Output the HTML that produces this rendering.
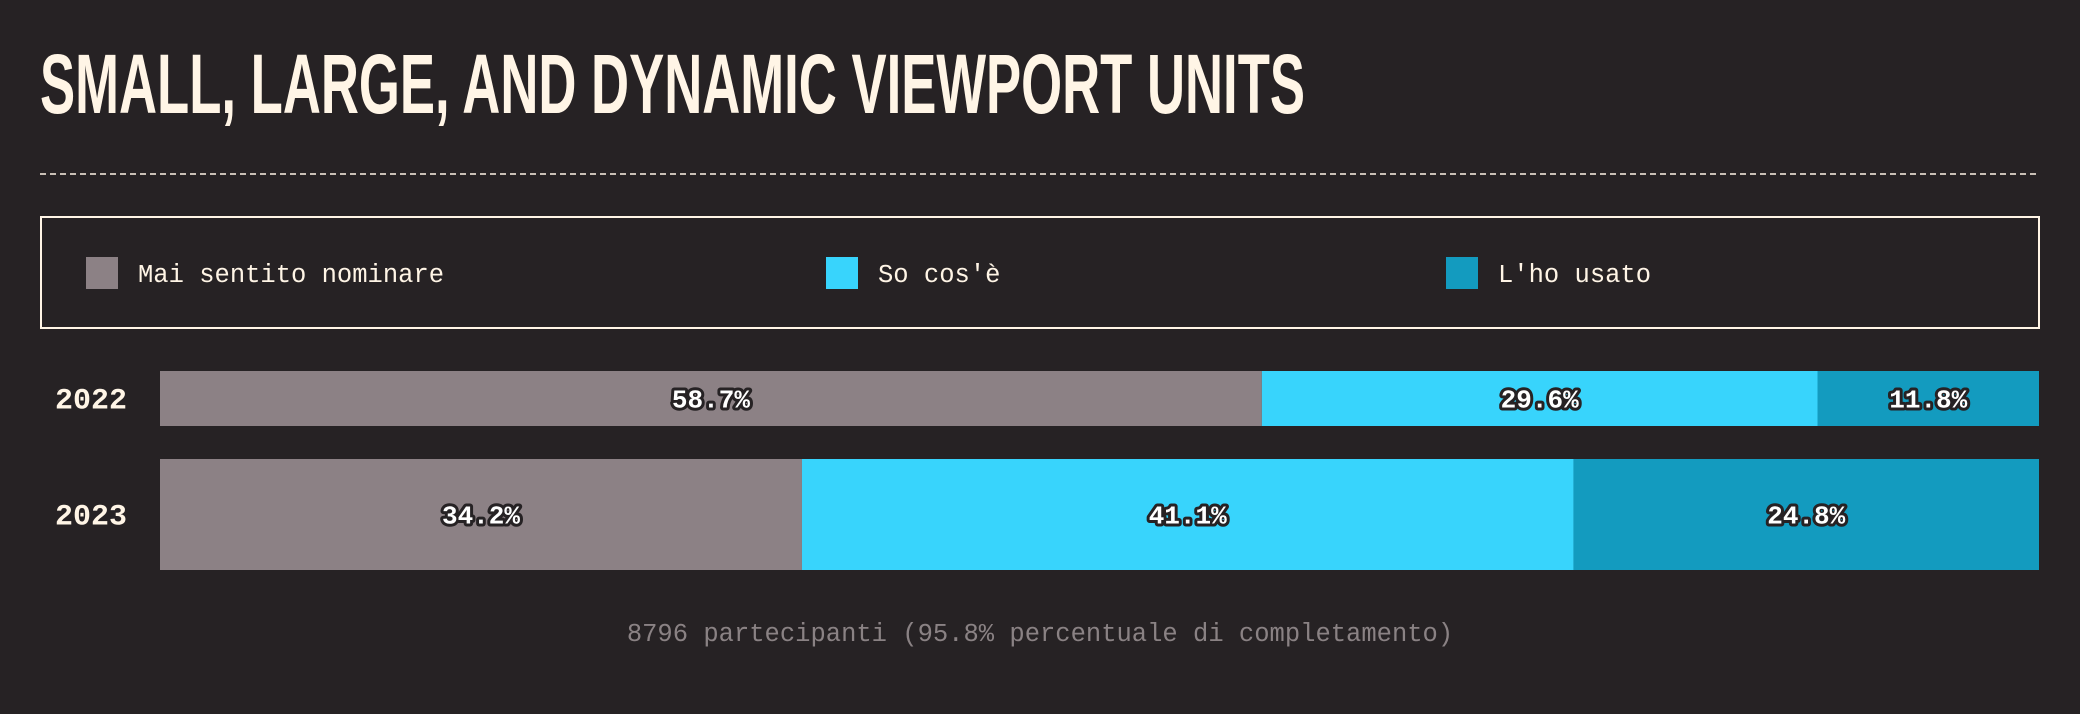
<!DOCTYPE html>
<html><head><meta charset="utf-8"><style>
html,body{margin:0;padding:0;background:#262224;width:2080px;height:714px;overflow:hidden}
svg{display:block}
</style></head><body>
<svg id="chart" width="2080" height="714" viewBox="0 0 2080 714" xmlns="http://www.w3.org/2000/svg">
<rect width="2080" height="714" fill="#262224"/>
<text x="40" y="113" textLength="1265" lengthAdjust="spacingAndGlyphs" font-family="Liberation Sans Narrow, Liberation Sans, sans-serif" font-weight="bold" font-size="84" fill="#fff5e6">SMALL, LARGE, AND DYNAMIC VIEWPORT UNITS</text>
<line x1="40" y1="174" x2="2039" y2="174" stroke="#fff5e6" stroke-width="1.5" stroke-dasharray="6,4"/>
<rect x="41" y="217" width="1998" height="111" fill="none" stroke="#fff5e6" stroke-width="2"/>
<g id="legend"></g>
<g id="bars"></g>
<text x="1040" y="641" text-anchor="middle" font-family="Liberation Mono, monospace" font-size="25.5" fill="#8a8284">8796 partecipanti (95.8% percentuale di completamento)</text>
</svg>
<script>
const years = ["2022", "2023"];
const seriesNames = ["Mai sentito nominare", "So cos'è", "L'ho usato"];
const neverHeard = [58.7, 34.2];
const knowWhat = [29.6, 41.1];
const used = [11.8, 24.8];
const colors = ["#8c8185", "#38d4fc", "#139bbf"];
const NS = "http://www.w3.org/2000/svg";
function mk(tag, attrs, parent){const e=document.createElementNS(NS,tag);for(const k in attrs)e.setAttribute(k,attrs[k]);parent.appendChild(e);return e;}
const legend=document.getElementById('legend');
const legX=[86,826,1446];
seriesNames.forEach((n,i)=>{
  const s=mk('rect',{x:legX[i],y:257,width:32,height:32,fill:colors[i]},legend);
  
  
  const t=mk('text',{x:legX[i]+52,y:282,'font-family':'Liberation Mono, monospace','font-size':25.5,fill:'#fff5e6'},legend);
  t.textContent=n;
  
  
});
const x0=160,x1=2039;
const rows=[{y:371,h:55},{y:459,h:111}];
const bars=document.getElementById('bars');
const series=[neverHeard,knowWhat,used];
function xScale(v,total){return (x1-x0)*v/total;}
years.forEach((yr,r)=>{
  const row=rows[r];
  const yl=mk('text',{x:91,y:row.y+row.h/2+10,'text-anchor':'middle','font-family':'Liberation Mono, monospace','font-weight':'bold','font-size':30,fill:'#fff5e6'},bars);
  yl.textContent=yr;
  
  
  const total=series.reduce((a,s)=>a+s[r],0);
  let cx=x0;
  series.forEach((s,i)=>{
    const w=xScale(s[r],total);
    const b=mk('rect',{x:cx,y:row.y,width:w,height:row.h,fill:colors[i]},bars);
    
    
    const t=mk('text',{x:cx+w/2,y:row.y+row.h/2+9,'text-anchor':'middle','font-family':'Liberation Mono, monospace','font-weight':'bold','font-size':26,fill:'#ffffff',stroke:'#262224','stroke-width':6,'paint-order':'stroke','stroke-linejoin':'round'},bars);
    t.textContent=s[r].toFixed(1)+'%';
    
    
    cx+=w;
  });
});
</script>
</body></html>
